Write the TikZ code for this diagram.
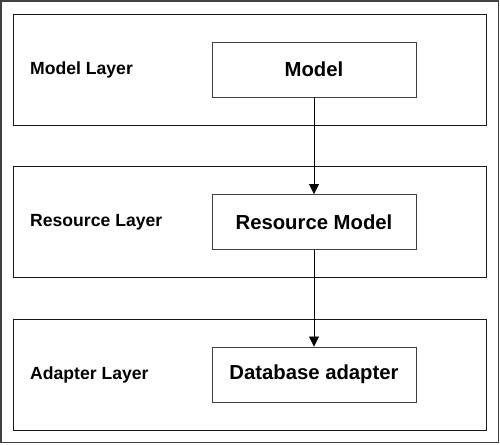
\documentclass[tikz,border=0pt]{standalone}
\usepackage{fontspec}
\setmainfont{Liberation Sans}
\usetikzlibrary{arrows.meta}
\tikzset{
  layerbox/.style={draw=black!90, line width=0.9pt, minimum width=473pt, minimum height=111pt, inner sep=0pt},
  modbox/.style={draw=black!75, line width=0.9pt, minimum width=204pt, minimum height=55pt, inner sep=0pt, font=\fontsize{20.3}{23}\selectfont\bfseries},
  lbl/.style={anchor=west, inner sep=0pt, font=\fontsize{17.6}{20}\selectfont\bfseries}
}
\def\layer(#1,#2,#3,#4){
  \node[layerbox] (#1) at (249.5,#2) {};
  \node[lbl] (#1_lbl) at (30,#2) {#3};
  \node[modbox] (#1_box) at (314,#2) {#4};
}

\begin{document}
\begin{tikzpicture}[x=1pt,y=-1pt]
\useasboundingbox (0,0) rectangle (500,444);
\draw[black!75, line width=1.6pt] (1,1) rectangle (498.5,442.5);
\layer(model,69.5,Model Layer,Model)
\layer(res,222,Resource Layer,Resource Model)
\layer(adp,374.5,Adapter Layer,Database adapter)
\draw[line width=0.8pt, -{Triangle[width=10pt,length=10pt]}] (model_box.south) -- (res_box.north);
\draw[line width=0.8pt, -{Triangle[width=10pt,length=10pt]}] (res_box.south) -- (adp_box.north);
\end{tikzpicture}
\end{document}
